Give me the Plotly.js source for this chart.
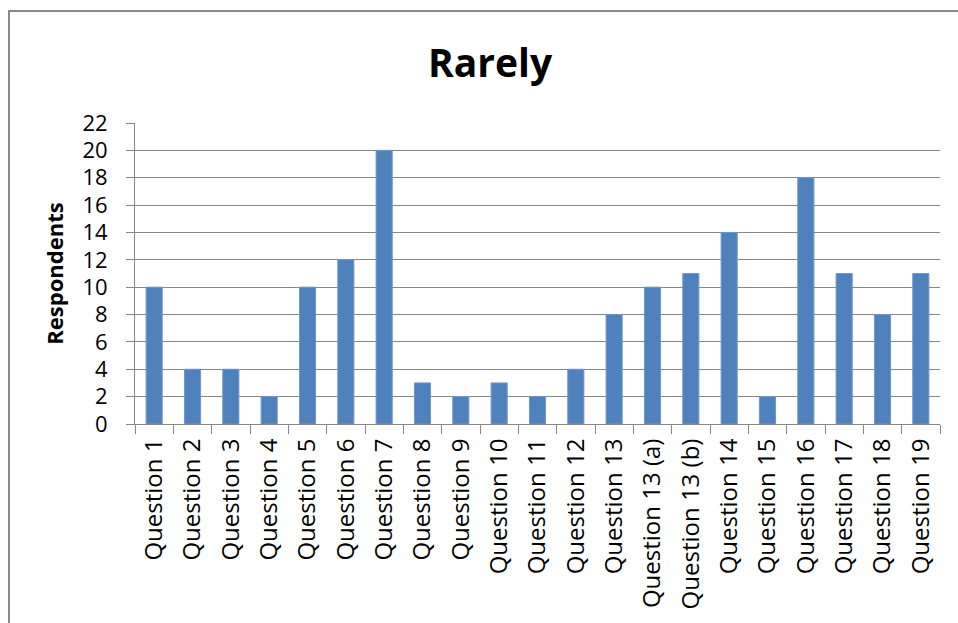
<!DOCTYPE html>
<html>
<head>
<meta charset="utf-8">
<script src="https://cdn.plot.ly/plotly-3.0.1.min.js"></script>
<style>
html,body{margin:0;padding:0;background:#fff;overflow:hidden;}
#wrap{position:relative;width:958px;height:623px;}
#chart{position:absolute;left:0;top:0;width:958px;height:623px;}
#frame{position:absolute;left:8px;top:10px;width:1000px;height:700px;border:2px solid #8a8a8a;box-sizing:border-box;pointer-events:none;}
</style>
</head>
<body>
<div id="wrap"><div id="chart"></div><div id="frame"></div></div>
<script>
const categories = ["Question 1","Question 2","Question 3","Question 4","Question 5","Question 6","Question 7","Question 8","Question 9","Question 10","Question 11","Question 12","Question 13","Question 13 (a)","Question 13 (b)","Question 14","Question 15","Question 16","Question 17","Question 18","Question 19"];
const respondents = [10,4,4,2,10,12,20,3,2,3,2,4,8,10,11,14,2,18,11,8,11];
const yTicks = [0,2,4,6,8,10,12,14,16,18,20,22];

const font = "'Open Sans', sans-serif";
Plotly.newPlot('chart', [{
  type: 'bar',
  x: categories,
  y: respondents,
  marker: {color: '#4F81BD', line: {color: '#6f97cb', width: 1}},
  hoverinfo: 'x+y'
}], {
  width: 958, height: 623,
  margin: {l: 135, r: 18, t: 123, b: 199},
  paper_bgcolor: '#fff', plot_bgcolor: '#fff',
  bargap: 0.58,
  showlegend: false,
  title: {text: '<b>Rarely</b>', font: {family: font, size: 39, color: '#000'}, x: 490/958, xref: 'container', xanchor: 'center', y: 1 - 63/623, yref: 'container', yanchor: 'middle'},
  xaxis: {
    type: 'category',
    tickangle: -90,
    ticks: 'outside', ticklen: 9, tickcolor: '#878787', tickwidth: 1,
    tickson: 'boundaries',
    showline: true, linecolor: '#878787', linewidth: 1,
    showgrid: false,
    automargin: false,
    tickfont: {family: font, size: 24, color: '#000'},
    ticklabelstandoff: 4
  },
  yaxis: {
    range: [0, 22],
    tickvals: yTicks,
    ticktext: yTicks.map(String),
    ticks: 'outside', ticklen: 8, tickcolor: '#878787', tickwidth: 1,
    showline: true, linecolor: '#878787', linewidth: 1,
    showgrid: true, gridcolor: '#878787', gridwidth: 1,
    zeroline: false,
    automargin: false,
    tickfont: {family: font, size: 22, color: '#000'},
    ticklabelstandoff: 14,
    title: {text: '<b>Respondents</b>', font: {family: font, size: 22, color: '#000'}, standoff: 12}
  }
}, {staticPlot: true});
</script>
</body>
</html>
